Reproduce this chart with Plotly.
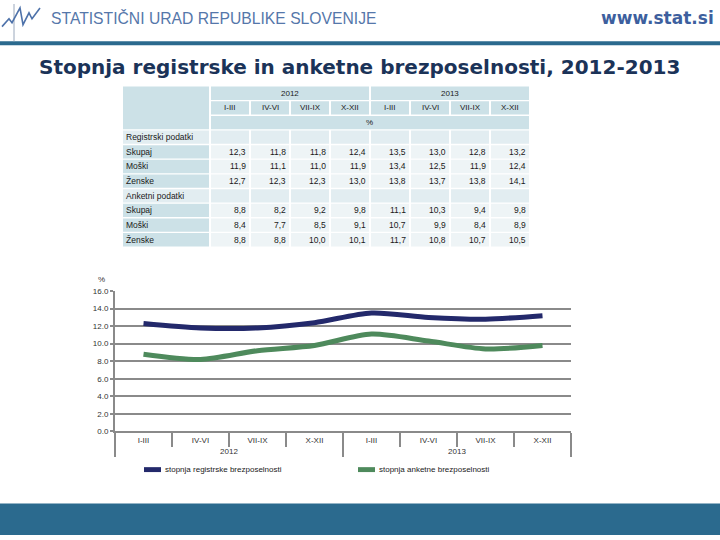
import plotly.graph_objects as go

W, H = 720, 540


def px(x):
    return x / W


def py(y):
    return 1 - y / H


# ---------------- data ----------------
years = ["2012", "2013"]
periods = ["I-III", "IV-VI", "VII-IX", "X-XII"]
reg_skupaj = [12.3, 11.8, 11.8, 12.4, 13.5, 13.0, 12.8, 13.2]
reg_moski = [11.9, 11.1, 11.0, 11.9, 13.4, 12.5, 11.9, 12.4]
reg_zenske = [12.7, 12.3, 12.3, 13.0, 13.8, 13.7, 13.8, 14.1]
ank_skupaj = [8.8, 8.2, 9.2, 9.8, 11.1, 10.3, 9.4, 9.8]
ank_moski = [8.4, 7.7, 8.5, 9.1, 10.7, 9.9, 8.4, 8.9]
ank_zenske = [8.8, 8.8, 10.0, 10.1, 11.7, 10.8, 10.7, 10.5]
y_ticks = [0, 2, 4, 6, 8, 10, 12, 14, 16]
series_names = ["stopnja registrske brezposelnosti", "stopnja anketne brezposelnosti"]
section_names = ["Registrski podatki", "Anketni podatki"]
row_names = ["Skupaj", "Moški", "Ženske"]
title_text = "Stopnja registrske in anketne brezposelnosti, 2012-2013"

# ---------------- styles ----------------
NAVY = "#23296b"
GREEN = "#4e8a5c"
GRID = "#8a8a8a"
BAND = "#2b6a8e"
HEAD = "#cce1e7"
SECT = "#e2edf1"
CELL = "#eef4f6"
TXT = "#1a1a1a"

x_cat = [[y for y in years for _ in periods], [p for _ in years for p in periods]]

fig = go.Figure()
fig.add_trace(go.Scatter(x=x_cat, y=reg_skupaj, mode="lines", name=series_names[0],
                         line=dict(color=NAVY, width=5, shape="spline", smoothing=0.8),
                         showlegend=False, hoverinfo="skip"))
fig.add_trace(go.Scatter(x=x_cat, y=ank_skupaj, mode="lines", name=series_names[1],
                         line=dict(color=GREEN, width=5, shape="spline", smoothing=0.8),
                         showlegend=False, hoverinfo="skip"))

shapes = []
annotations = []


def rect(x0, y0, x1, y1, color, layer="below"):
    shapes.append(dict(type="rect", xref="paper", yref="paper", x0=px(x0), x1=px(x1),
                       y0=py(y1), y1=py(y0), fillcolor=color, line=dict(width=0), layer=layer))


def text(x, y, s, size=8.5, anchor="center", color=TXT, family="Liberation Sans", bold=False):
    if bold:
        s = "<b>" + s + "</b>"
    annotations.append(dict(xref="paper", yref="paper", x=px(x), y=py(y), text=s,
                            showarrow=False, xanchor=anchor, yanchor="middle",
                            font=dict(size=size, color=color, family=family)))


# ---------------- header / footer ----------------
rect(0, 38, 720, 42, BAND)
rect(0, 508, 720, 540, BAND)
# logo mark
shapes.append(dict(type="line", xref="paper", yref="paper", x0=px(14), x1=px(14), y0=py(0), y1=py(38),
                   line=dict(color="#9aa8bc", width=1)))
logo_pts = [(2, 23), (9, 15), (12, 19), (20, 4), (23, 21), (29, 9), (32, 15), (40, 4)]
path = "M " + " L ".join(f"{px(a)},{py(b)}" for a, b in logo_pts)
shapes.append(dict(type="path", xref="paper", yref="paper", path=path,
                   line=dict(color="#4e72aa", width=1.6)))
text(49, 14, "STATISTIČNI URAD REPUBLIKE SLOVENIJE", size=15.7, anchor="left", color="#5577aa",
     family="Liberation Sans")
text(716, 14, "www.stat.si", size=17, anchor="right", color="#3d5f9e", family="DejaVu Sans", bold=True)
text(359, 64, title_text, size=20, color="#1b3358", family="DejaVu Sans", bold=True)

# ---------------- table ----------------
col_w = 38
col_left = [211 + 40 * i for i in range(8)]
lab_l, lab_r = 123, 209
rh = 13.5


def rt(r):
    return 84 + 14.9 * r


# header block
rect(lab_l, rt(0), lab_r, rt(2) + rh, HEAD)
for yi, yr in enumerate(years):
    x0 = col_left[4 * yi]
    x1 = col_left[4 * yi + 3] + col_w
    rect(x0, rt(0), x1, rt(0) + rh, HEAD)
    text((x0 + x1) / 2, rt(0) + rh / 2, yr, size=8)
    for pi, p in enumerate(periods):
        c = 4 * yi + pi
        rect(col_left[c], rt(1), col_left[c] + col_w, rt(1) + rh, HEAD)
        text(col_left[c] + col_w / 2, rt(1) + rh / 2, p, size=8)
rect(col_left[0], rt(2), col_left[7] + col_w, rt(2) + rh, HEAD)
text((col_left[0] + col_left[7] + col_w) / 2, rt(2) + rh / 2, "%", size=8)

blocks = [(section_names[0], [reg_skupaj, reg_moski, reg_zenske]),
          (section_names[1], [ank_skupaj, ank_moski, ank_zenske])]
r = 3
for sec, rows in blocks:
    rect(lab_l, rt(r), lab_r, rt(r) + rh, SECT)
    for c in range(8):
        rect(col_left[c], rt(r), col_left[c] + col_w, rt(r) + rh, SECT)
    text(lab_l + 1, rt(r) + rh / 2, sec, anchor="left")
    r += 1
    for name, vals in zip(row_names, rows):
        rect(lab_l, rt(r), lab_r, rt(r) + rh, HEAD)
        text(lab_l + 1, rt(r) + rh / 2, name, anchor="left")
        for c, v in enumerate(vals):
            rect(col_left[c], rt(r), col_left[c] + col_w, rt(r) + rh, CELL)
            text(col_left[c] + col_w - 1, rt(r) + rh / 2, f"{v:.1f}".replace(".", ","), anchor="right")
        r += 1

# ---------------- chart extras ----------------
text(101, 280, "%", size=8, color="#333333", family="Liberation Sans")
# legend
for i, (nm, colr) in enumerate(zip(series_names, [NAVY, GREEN])):
    lx = 144 + 214 * i
    rect(lx, 471, lx + 17, 476, colr, layer="above")
    text(lx + 19, 473.5, nm, size=8, anchor="left", color=TXT)

fig.update_layout(
    width=W, height=H, autosize=False,
    margin=dict(l=0, r=0, t=0, b=0),
    paper_bgcolor="white", plot_bgcolor="white",
    shapes=shapes, annotations=annotations,
    showlegend=False,
    xaxis=dict(type="multicategory", domain=[px(115), px(571)], range=[-0.5, 7.5],
               showline=True, linecolor=GRID, linewidth=2,
               ticks="outside", ticklen=14, tickwidth=2, tickcolor=GRID,
               dividercolor=GRID, dividerwidth=2, showgrid=False,
               tickfont=dict(size=8, color="#333333", family="Liberation Sans")),
    yaxis=dict(domain=[py(434.5), py(292)], range=[0, 16], tickvals=y_ticks, tickformat=".1f",
               showgrid=True, gridcolor=GRID, gridwidth=2, zeroline=False,
               showline=True, linecolor=GRID, linewidth=2,
               ticks="outside", ticklen=3, tickwidth=2, tickcolor=GRID,
               tickfont=dict(size=8, color="#333333", family="Liberation Sans")),
)

fig.write_html("out.html", config={"displayModeBar": False},
               post_script="document.body.style.margin='0px';document.body.style.overflow='hidden';")
